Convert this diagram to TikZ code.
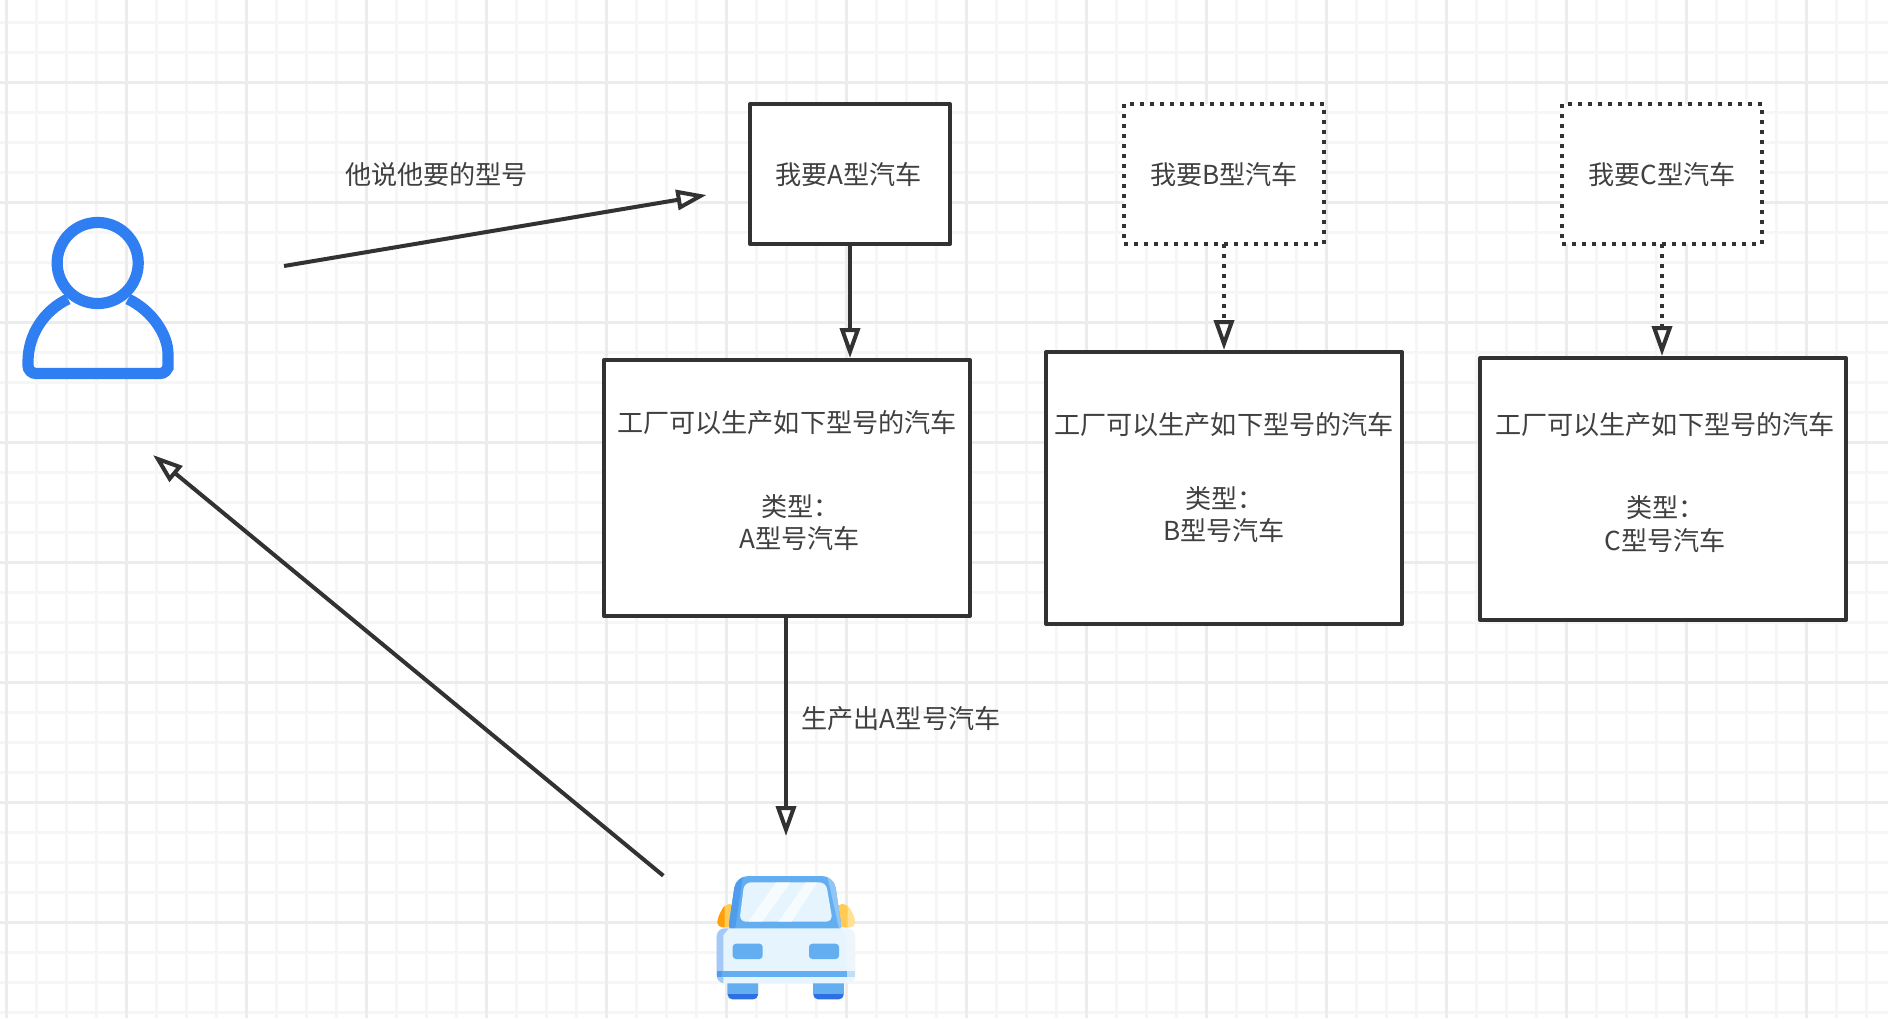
\documentclass[tikz,border=0pt]{standalone}
\usepackage{fontspec}
\setmainfont{Noto Sans CJK SC}
\usetikzlibrary{arrows.meta}
\definecolor{ink}{HTML}{323232}
\definecolor{textink}{HTML}{404040}
\definecolor{gridminor}{HTML}{F6F6F6}
\definecolor{gridmajor}{HTML}{ECECEC}
\definecolor{iconblue}{HTML}{2F7FF2}
\definecolor{carblue}{HTML}{62AEF0}
\definecolor{cardark}{HTML}{4F9BEC}
\definecolor{carlight}{HTML}{90C6F6}
\definecolor{carpale}{HTML}{E6F4FD}
\definecolor{carpaler}{HTML}{EFF6FB}
\definecolor{carside}{HTML}{A5C9F7}
\definecolor{wheeldark}{HTML}{2E6FE2}
\definecolor{mirror}{HTML}{FFCB52}
\definecolor{mirrordark}{HTML}{FF9D0A}
\definecolor{mirrorlight}{HTML}{FFE193}
\tikzset{
  x=0.75pt,y=-0.75pt,
  minorline/.style={gridminor,line width=1.6pt},
  majorline/.style={gridmajor,line width=1.6pt},
  solidbox/.style={draw=ink,fill=white,line width=3pt,line join=round,rectangle,inner sep=0pt,outer sep=0pt},
  dotbox/.style={solidbox,line cap=butt,dash pattern=on 3pt off 4.5pt},
  conn/.style={draw=ink,line width=3pt,-{Triangle[open,fill=white,length=22.5pt,width=15pt]}},
  dotconn/.style={conn,dash pattern=on 3pt off 4.5pt},
  txt/.style={text=textink,font=\fontsize{19.6pt}{24pt}\selectfont,inner sep=0pt,outer sep=0pt},
  person/.style={draw=iconblue,line width=8.4pt},
}
\begin{document}
\begin{tikzpicture}
\useasboundingbox (0,0) rectangle (1888,1018);
\fill[white] (0,0) rectangle (1888,1018);
% grid
\foreach \i in {0,...,62} \draw[minorline] ({6.5+30*\i},0) -- ({6.5+30*\i},1018);
\foreach \i in {0,...,33} \draw[minorline] (0,{22.5+30*\i}) -- (1888,{22.5+30*\i});
\foreach \i in {0,...,15} \draw[majorline] ({6.5+120*\i},0) -- ({6.5+120*\i},1018);
\foreach \i in {0,...,7} \draw[majorline] (0,{82.5+120*\i}) -- (1888,{82.5+120*\i});
% boxes
\node[solidbox,minimum width=150pt,minimum height=105pt] (boxa) at (850,174) {};
\node[dotbox,minimum width=150pt,minimum height=105pt] (boxb) at (1224,174) {};
\node[dotbox,minimum width=150pt,minimum height=105pt] (boxc) at (1662,174) {};
\node[solidbox,minimum width=274.5pt,minimum height=192pt] (facta) at (787,488) {};
\node[solidbox,minimum width=267pt,minimum height=204pt] (factb) at (1224,488) {};
\node[solidbox,minimum width=274.5pt,minimum height=196.5pt] (factc) at (1663,489) {};
% texts
\node[txt] (ta) at (848.5,175) {我要A型汽车};
\node[txt] (tb) at (1224,175) {我要B型汽车};
\node[txt] (tc) at (1662,175) {我要C型汽车};
\node[txt] (fa1) at (787,423) {工厂可以生产如下型号的汽车};
\node[txt,anchor=west] (fa2) at (761,506.5) {类型：};
\node[txt] (fa3) at (799.5,539) {A型号汽车};
\node[txt] (fb1) at (1224,425) {工厂可以生产如下型号的汽车};
\node[txt,anchor=west] (fb2) at (1185,498.5) {类型：};
\node[txt] (fb3) at (1224,531) {B型号汽车};
\node[txt] (fc1) at (1665,425) {工厂可以生产如下型号的汽车};
\node[txt,anchor=west] (fc2) at (1626,508) {类型：};
\node[txt] (fc3) at (1665.5,541) {C型号汽车};
\node[txt] (say) at (436.5,175) {他说他要的型号};
\node[txt] (make) at (901,719) {生产出A型号汽车};
% connectors
\coordinate (p1) at (284,266);
\coordinate (p2) at (706.5,195);
\coordinate (c1) at (663.3,875.7);
\coordinate (c2) at (153,455);
\coordinate (c3) at (786,836);
\draw[conn] (p1) -- (p2);
\draw[conn] (c1) -- (c2);
\draw[conn] (c3 |- facta.south) -- (c3);
\draw[conn,shorten >=1.5pt] (boxa.south) -- (boxa.south |- facta.north);
\draw[dotconn,shorten >=1.5pt] (boxb.south) -- (factb.north);
\draw[dotconn,shorten >=1.5pt] (boxc.south) -- (boxc.south |- factc.north);
% person
\draw[person] (68,299) .. controls (43.7,310.6) and (28,335) .. (28,362)
  [rounded corners=6pt] -- (28,373.5) -- (168,373.5) -- (168,362) [sharp corners]
  .. controls (168,335) and (152.3,310.6) .. (128,299);
\draw[person] (97.7,263) circle[radius=30.4pt];
% car
\begin{scope}[shift={(680,840)},x=0.25pt,y=-0.25pt]
  % mirrors
  \fill[mirror,rounded corners=4pt] (135,192) -- (165,192) -- (165,262) -- (112,262) -- (112,235) -- cycle;
  \begin{scope}
    \clip (112,185) rectangle (134,265);
    \fill[mirrordark,rounded corners=4pt] (135,192) -- (165,192) -- (165,262) -- (112,262) -- (112,235) -- cycle;
  \end{scope}
  \fill[mirror,rounded corners=4pt] (470,192) -- (502,192) -- (525,235) -- (525,262) -- (470,262) -- cycle;
  \begin{scope}
    \clip (503,185) rectangle (530,265);
    \fill[mirrorlight,rounded corners=4pt] (470,192) -- (502,192) -- (525,235) -- (525,262) -- (470,262) -- cycle;
  \end{scope}
  % cabin
  \fill[carblue,rounded corners=9pt] (168,108) -- (462,108) -- (488,285) -- (142,285) -- cycle;
  \begin{scope}
    \clip (160,100) -- (190,100) -- (165,270) -- (142,270) -- cycle;
    \fill[cardark,rounded corners=9pt] (168,108) -- (462,108) -- (488,285) -- (142,285) -- cycle;
  \end{scope}
  \begin{scope}
    \clip (440,100) -- (470,100) -- (495,270) -- (478,270) -- cycle;
    \fill[carlight,rounded corners=9pt] (168,108) -- (462,108) -- (488,285) -- (142,285) -- cycle;
  \end{scope}
  % window
  \fill[carpale,rounded corners=5pt] (193,127) -- (438,127) -- (458,245) -- (178,245) -- cycle;
  \fill[white,opacity=.65] (205,245) -- (288,127) -- (332,127) -- (247,245) -- cycle;
  \fill[white,opacity=.65] (295,245) -- (378,127) -- (412,127) -- (335,245) -- cycle;
  % wheels
  \begin{scope}
    \clip (130,430) rectangle (510,490);
    \fill[wheeldark,rounded corners=3.5pt] (143,415) rectangle (234,478);
    \fill[wheeldark,rounded corners=3.5pt] (400,415) rectangle (491,478);
  \end{scope}
  \fill[carblue] (143,430) -- (234,430) -- (234,463) -- (143,463) -- cycle;
  \fill[carblue] (400,430) -- (491,430) -- (491,463) -- (400,463) -- cycle;
  % body
  \fill[carpale,rounded corners=6pt] (110,265) rectangle (525,430);
  \begin{scope}
    \clip (105,260) -- (150,260) -- (130,285) -- (130,435) -- (105,435) -- cycle;
    \fill[carside,rounded corners=6pt] (110,265) rectangle (525,430);
  \end{scope}
  \begin{scope}
    \clip (530,260) -- (478,260) -- (500,285) -- (500,435) -- (530,435) -- cycle;
    \fill[carpaler,rounded corners=6pt] (110,265) rectangle (525,430);
  \end{scope}
  % lamps
  \fill[carblue,rounded corners=2.5pt] (158,311) rectangle (248,357);
  \fill[carblue,rounded corners=2.5pt] (387,311) rectangle (477,357);
  % bumper
  \fill[carblue] (125,393) rectangle (500,410);
  \fill[cardark] (110,393) rectangle (125,410);
  \fill[carpale!70!carblue] (500,393) rectangle (525,410);
\end{scope}
\end{tikzpicture}
\end{document}
